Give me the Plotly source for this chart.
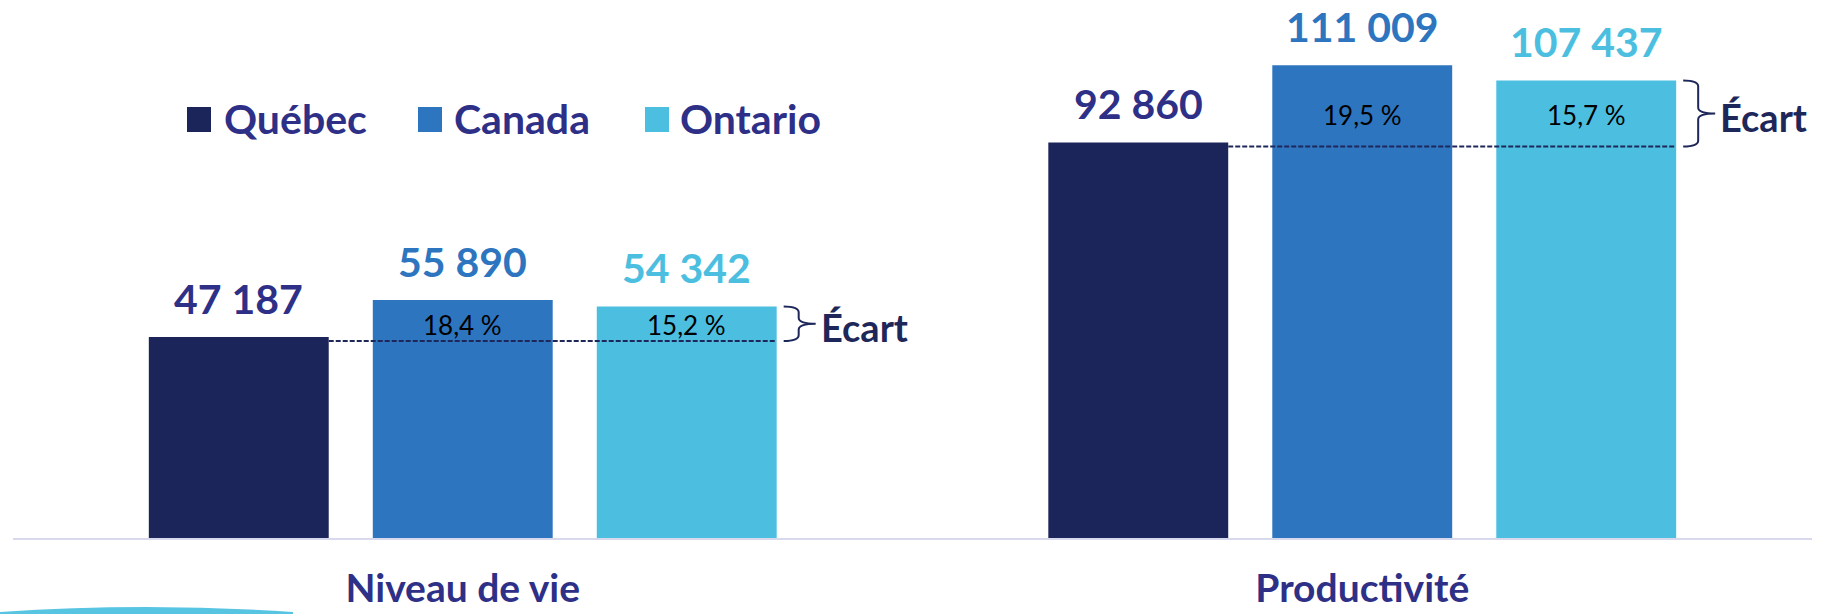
import plotly.graph_objects as go

# ---------------- data ----------------
categories = ["Niveau de vie", "Productivité"]
series_names = ["Québec", "Canada", "Ontario"]
quebec = [47187, 92860]
canada = [55890, 111009]
ontario = [54342, 107437]
ecart_canada = ["18,4 %", "19,5 %"]
ecart_ontario = ["15,2 %", "15,7 %"]
ecart_label = "Écart"

# ---------------- style ----------------
W, H = 1830, 614
ML, MR, MT, MB = 13, 18, 0, 76
PW, PH = W - ML - MR, H - MT - MB
YMAX = 126350
XMIN, XMAX = -0.5, 1.5
PXY = PH / YMAX                 # px per y unit
PXX = PW / (XMAX - XMIN)        # px per x unit
BAR_W = 0.2
STEP = 0.249
FONT = "Lato, Carlito, 'Open Sans', sans-serif"
bar_colors = ["#1C2559", "#2E75C0", "#4CBFE0"]
label_colors = ["#2E3087", "#2E75C0", "#4CBFE0"]
INDIGO = "#2E3087"
NAVY = "#1E2759"


def fmt(v):
    return f"{v:,}".replace(",", " ")


def px_x(px):
    return (px - ML) / PW


def px_y(py):
    return (MT + PH - py) / PH


series_values = [quebec, canada, ontario]
groups = list(range(len(categories)))

fig = go.Figure()
annotations = []
shapes = []

for i, (name, vals) in enumerate(zip(series_names, series_values)):
    xs = [g + (i - 1) * STEP for g in groups]
    fig.add_trace(go.Bar(
        x=xs, y=vals, width=BAR_W, name=name,
        marker=dict(color=bar_colors[i], line=dict(width=0)),
        showlegend=False, hoverinfo="skip",
    ))
    for x, v in zip(xs, vals):
        annotations.append(dict(
            x=x, y=v, xref="x", yref="y", text=fmt(v), showarrow=False,
            yanchor="middle", yshift=39,
            font=dict(family=FONT, size=41, color=label_colors[i], weight="bold"),
        ))

for g in groups:
    q, c, o = quebec[g], canada[g], ontario[g]
    y_dash = q - 4 / PXY
    x_q_right = g - STEP + BAR_W / 2
    x_o_right = g + STEP + BAR_W / 2
    # dashed reference line at Québec level
    shapes.append(dict(
        type="line", xref="x", yref="y",
        x0=x_q_right, x1=x_o_right, y0=y_dash, y1=y_dash,
        line=dict(color=NAVY, width=2, dash="5px,2px"),
    ))
    # percentage gaps
    y_mid = (o + q) / 2
    for xx, txt in ((g, ecart_canada[g]), (g + STEP, ecart_ontario[g])):
        annotations.append(dict(
            x=xx, y=y_mid, xref="x", yref="y", text=txt, showarrow=False,
            yanchor="middle", yshift=-3,
            font=dict(family=FONT, size=26, color="#000000"),
        ))
    # curly brace
    x0 = x_o_right + 7 / PXX
    xm = x0 + 15 / PXX
    xt = x0 + 32 / PXX
    ytop = o
    ybot = y_dash
    ym = (ytop + ybot) / 2
    r = 6 / PXY
    path = (f"M {x0},{ytop} Q {xm},{ytop} {xm},{ytop - r} "
            f"L {xm},{ym + r} Q {xm},{ym} {xt},{ym} "
            f"Q {xm},{ym} {xm},{ym - r} "
            f"L {xm},{ybot + r} Q {xm},{ybot} {x0},{ybot}")
    shapes.append(dict(type="path", xref="x", yref="y", path=path,
                       line=dict(color=NAVY, width=2)))
    annotations.append(dict(
        x=xt + 3 / PXX, y=ym, xref="x", yref="y", text=ecart_label,
        showarrow=False, xanchor="left", yanchor="middle", yshift=-3,
        font=dict(family=FONT, size=38, color=NAVY, weight="bold"),
    ))

# custom legend
legend_sq_left = [187, 418, 645]
legend_txt_left = [222, 452, 678]
for i, name in enumerate(series_names):
    shapes.append(dict(
        type="rect", xref="paper", yref="paper",
        x0=px_x(legend_sq_left[i]), x1=px_x(legend_sq_left[i] + 24),
        y0=px_y(132), y1=px_y(107),
        fillcolor=bar_colors[i], line=dict(width=0),
    ))
    annotations.append(dict(
        x=px_x(legend_txt_left[i]), y=px_y(118), xref="paper", yref="paper",
        text=name, showarrow=False, xanchor="left", yanchor="middle",
        font=dict(family=FONT, size=41, color=INDIGO, weight="bold"),
    ))

# decorative swoosh bottom-left
sw = (f"M {px_x(0)},{px_y(616)} L {px_x(0)},{px_y(612)} "
      f"Q {px_x(146)},{px_y(602)} {px_x(293)},{px_y(612)} "
      f"L {px_x(293)},{px_y(616)} Z")
shapes.append(dict(
    type="path", xref="paper", yref="paper", path=sw,
    fillcolor="#57C4E2", line=dict(width=0), layer="above",
))

fig.update_layout(
    width=W, height=H,
    margin=dict(l=ML, r=MR, t=MT, b=MB, pad=0),
    paper_bgcolor="white", plot_bgcolor="white",
    barmode="overlay",
    showlegend=False,
    annotations=annotations,
    shapes=shapes,
    xaxis=dict(
        range=[XMIN, XMAX], tickvals=groups, ticktext=categories,
        showgrid=False, zeroline=False, ticks="",
        showline=True, linecolor="#D9D9EE", linewidth=2,
        tickfont=dict(family=FONT, size=39, color=INDIGO, weight="bold"),
        ticklabelstandoff=15, automargin=False, fixedrange=True,
    ),
    yaxis=dict(range=[0, YMAX], visible=False, showgrid=False,
               zeroline=False, fixedrange=True),
)

fig.write_html(
    "out.html",
    config={"displayModeBar": False},
    post_script="document.body.style.margin='0';document.body.style.overflow='hidden';",
)
